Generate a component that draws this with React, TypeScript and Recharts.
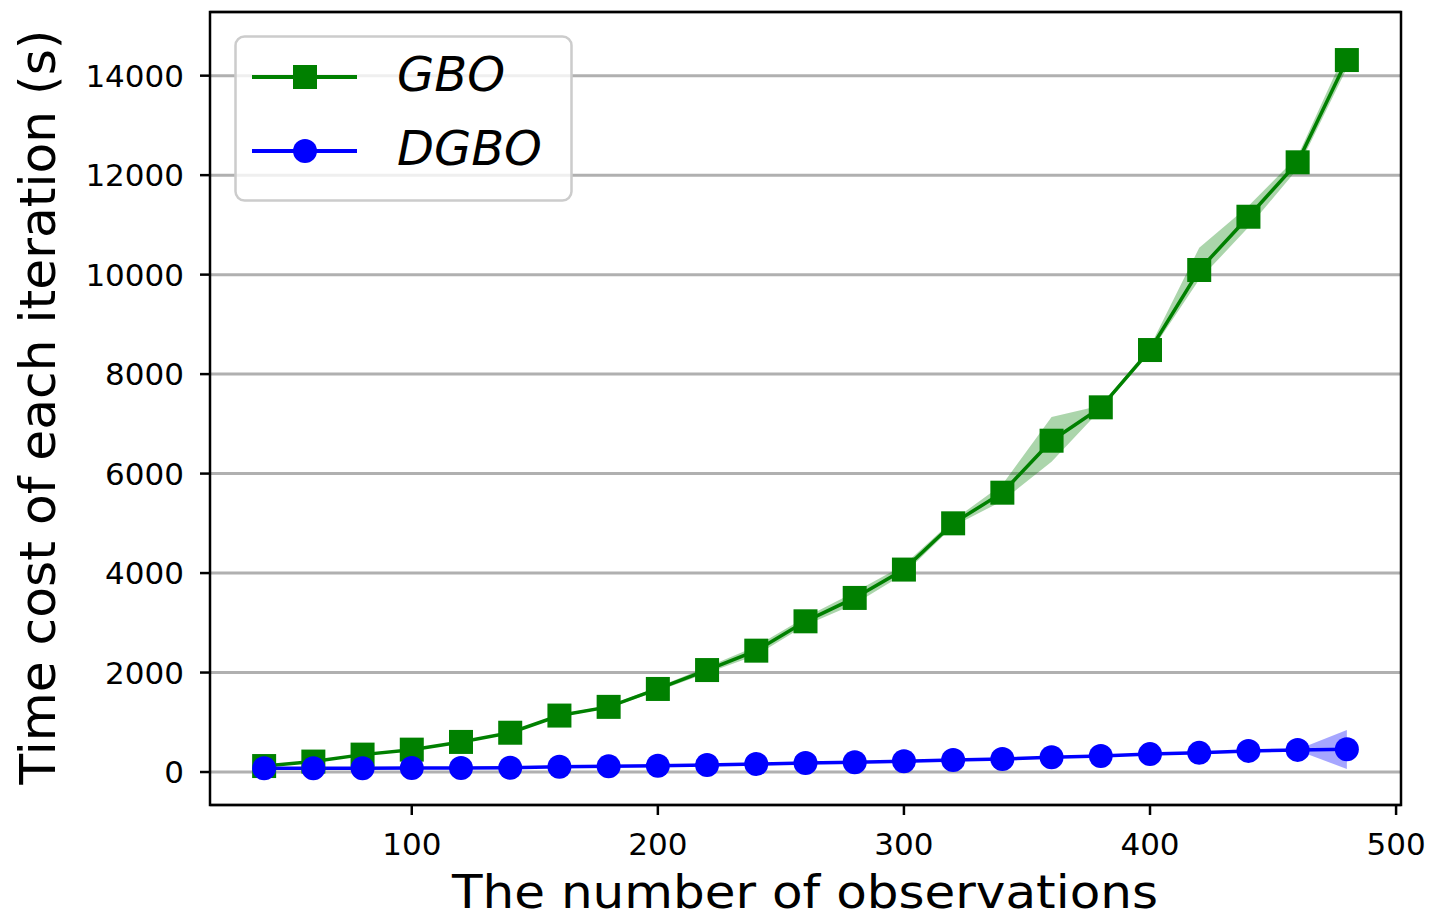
import React from 'react';
import {
  ComposedChart,
  Line,
  Area,
  XAxis,
  YAxis,
  CartesianGrid,
  ReferenceArea,
  Legend,
} from 'recharts';

// number of observations
const observations = [40, 60, 80, 100, 120, 140, 160, 180, 200, 220, 240, 260, 280, 300, 320, 340, 360, 380, 400, 420, 440, 460, 480];

// GBO: mean time per iteration and the shaded spread
const gboMean = [120, 210, 350, 450, 605, 790, 1135, 1310, 1670, 2050, 2440, 3030, 3500, 4070, 5000, 5616, 6661, 7332, 8484, 10093, 11164, 12258, 14314];
const gboLow = [105, 195, 335, 435, 590, 770, 1110, 1285, 1630, 1990, 2350, 2950, 3380, 3980, 4940, 5450, 6240, 7290, 8420, 9900, 10950, 12130, 14150];
const gboHigh = [135, 225, 365, 465, 620, 810, 1160, 1335, 1710, 2110, 2530, 3110, 3620, 4160, 5060, 5780, 7140, 7370, 8550, 10540, 11380, 12380, 14550];

// DGBO
const dgboMean = [75, 75, 78, 80, 80, 85, 105, 115, 125, 140, 160, 180, 195, 215, 240, 260, 295, 320, 360, 385, 425, 445, 456];
const dgboLow = [65, 65, 68, 70, 70, 75, 95, 105, 115, 130, 150, 170, 185, 205, 230, 250, 285, 310, 350, 375, 415, 435, 60];
const dgboHigh = [85, 85, 88, 90, 90, 95, 115, 125, 135, 150, 170, 190, 205, 225, 250, 270, 305, 330, 370, 395, 435, 455, 845];

const xTicks = [100, 200, 300, 400, 500];
const yTicks = [0, 2000, 4000, 6000, 8000, 10000, 12000, 14000];

const seriesNames = ['GBO', 'DGBO'];
const GREEN = '#008000';
const BLUE = '#0000ff';
const FONT = '"DejaVu Sans", sans-serif';

const data = observations.map((x, i) => ({
  x,
  gbo: gboMean[i],
  gboBand: [gboLow[i], gboHigh[i]],
  dgbo: dgboMean[i],
  dgboBand: [dgboLow[i], dgboHigh[i]],
}));

const SquareDot = (props: any) => {
  const { cx, cy, index } = props;
  if (cx == null || cy == null) return null;
  return <rect key={`sq-${index}`} x={cx - 12} y={cy - 12} width={24} height={24} fill={GREEN} />;
};

const CircleDot = (props: any) => {
  const { cx, cy, index } = props;
  if (cx == null || cy == null) return null;
  return <circle key={`ci-${index}`} cx={cx} cy={cy} r={12} fill={BLUE} />;
};

const XTick = (props: any) => {
  const { x, y, payload } = props;
  return (
    <text x={x} y={y + 38} textAnchor="middle" fontSize={31} fontFamily={FONT} fill="#000">
      {payload.value}
    </text>
  );
};

const YTick = (props: any) => {
  const { x, y, payload } = props;
  return (
    <text x={x - 14} y={y + 11} textAnchor="end" fontSize={31} fontFamily={FONT} fill="#000">
      {payload.value}
    </text>
  );
};

const XLabel = () => (
  <text x={805} y={908} textAnchor="middle" fontSize={46} fontFamily={FONT} fill="#000"
    textLength={706} lengthAdjust="spacingAndGlyphs">
    The number of observations
  </text>
);

const YLabel = () => (
  <text x={0} y={0} transform="translate(55,407) rotate(-90)" textAnchor="middle" fontSize={50}
    fontFamily={FONT} fill="#000" textLength={755} lengthAdjust="spacingAndGlyphs">
    Time cost of each iteration (s)
  </text>
);

const ChartLegend = () => (
  <svg width={340} height={168} style={{ display: 'block' }}>
    <rect x={1.5} y={1.5} width={336} height={164} rx={9} ry={9}
      fill="#ffffff" fillOpacity={0.8} stroke="#cccccc" strokeWidth={2.5} />
    <line x1={18} x2={123} y1={42} y2={42} stroke={GREEN} strokeWidth={4} />
    <rect x={59} y={30} width={24} height={24} fill={GREEN} />
    <text x={163} y={56} fontSize={48} fontStyle="italic" fontFamily={FONT} fill="#000">{seriesNames[0]}</text>
    <line x1={18} x2={123} y1={116} y2={116} stroke={BLUE} strokeWidth={4} />
    <circle cx={71} cy={116} r={12} fill={BLUE} />
    <text x={163} y={130} fontSize={48} fontStyle="italic" fontFamily={FONT} fill="#000">{seriesNames[1]}</text>
  </svg>
);

export default function App() {
  return (
    <div style={{ position: 'absolute', left: 0, top: 0, width: 1432, height: 918, background: '#fff' }}>
      <ComposedChart width={1432} height={918} data={data}
        margin={{ top: 12, right: 31, bottom: 0, left: 0 }}>
        <CartesianGrid vertical={false} stroke="#b0b0b0" strokeWidth={3} />
        <XAxis dataKey="x" type="number" domain={[18, 502]} ticks={xTicks} allowDataOverflow
          height={113} axisLine={false} tickSize={10}
          tickLine={{ stroke: '#000', strokeWidth: 2.5 }} tick={<XTick />} label={<XLabel />} />
        <YAxis type="number" domain={[-663, 15280]} ticks={yTicks} allowDataOverflow
          width={210} axisLine={false} tickSize={10}
          tickLine={{ stroke: '#000', strokeWidth: 2.5 }} tick={<YTick />} label={<YLabel />} />
        <Area dataKey="gboBand" stroke="none" fill={GREEN} fillOpacity={0.33} isAnimationActive={false} activeDot={false} />
        <Line dataKey="gbo" stroke={GREEN} strokeWidth={3.5} dot={SquareDot} activeDot={false} isAnimationActive={false} />
        <Area dataKey="dgboBand" stroke="none" fill={BLUE} fillOpacity={0.35} isAnimationActive={false} activeDot={false} />
        <Line dataKey="dgbo" stroke={BLUE} strokeWidth={3.5} dot={CircleDot} activeDot={false} isAnimationActive={false} />
        <ReferenceArea x1={18} x2={502} y1={-663} y2={15280} fill="none" stroke="#000" strokeWidth={2.5} ifOverflow="visible" />
        <Legend layout="horizontal" verticalAlign="middle" align="center" content={<ChartLegend />}
          wrapperStyle={{ left: 234, top: 35, width: 340, height: 168 }} />
      </ComposedChart>
    </div>
  );
}
